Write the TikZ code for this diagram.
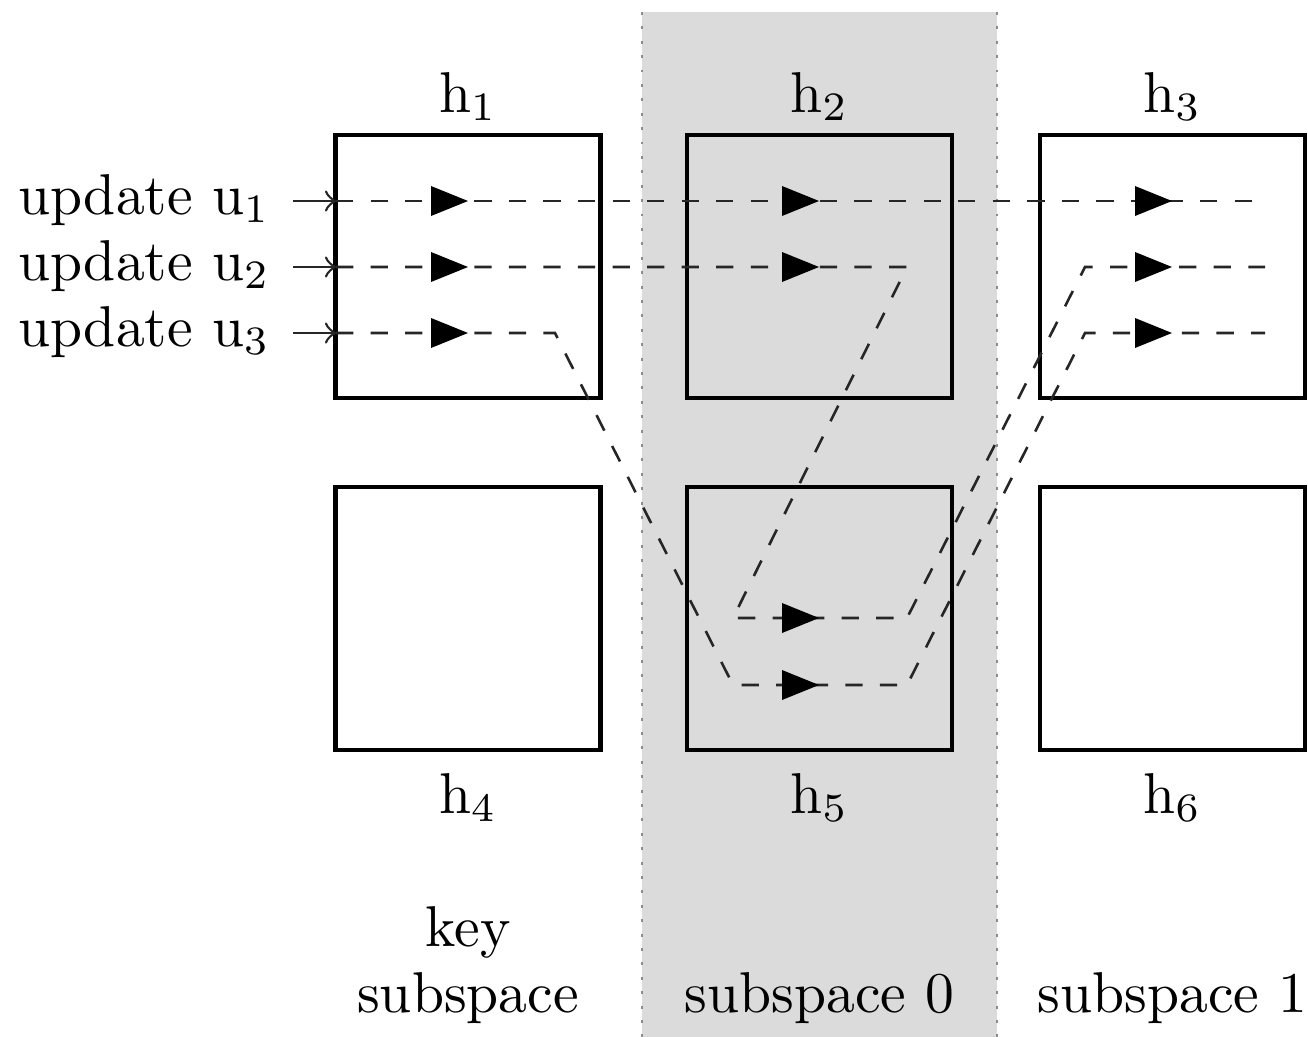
\documentclass[tikz,border=0pt]{standalone}
\usetikzlibrary{arrows}
\begin{document}
\begin{tikzpicture}[x=0.1736pt,y=-0.1736pt,
  box/.style={draw=black,line width=0.7pt,minimum width=265*0.1736pt,minimum height=263*0.1736pt,inner sep=0pt},
  flow/.style={dashed,line width=0.45pt,draw=black!85},
  lbl/.style={anchor=base,inner sep=0pt,font=\normalsize},
  midtip/.pic={\fill[black] (-37,-15) -- (0,0) -- (-37,15) -- cycle;}]
\useasboundingbox (0,0) rectangle (1308,1037);
% band
\fill[black!14] (642,12) rectangle (997,1037);
\draw[black!45,dotted,line width=0.5pt] (642,12) -- (642,1037);
\draw[black!45,dotted,line width=0.5pt] (997,12) -- (997,1037);
% boxes
\node[box] (h1) at (468,266.5) {};
\node[box] (h2) at (819.5,266.5) {};
\node[box] (h3) at (1172.5,266.5) {};
\node[box] (h4) at (468,618.5) {};
\node[box] (h5) at (819.5,618.5) {};
\node[box] (h6) at (1172.5,618.5) {};
% labels
\node[lbl] (l1) at (468,112) {$\mathrm{h}_1$};
\node[lbl] (l2) at (819.5,112) {$\mathrm{h}_2$};
\node[lbl] (l3) at (1172.5,112) {$\mathrm{h}_3$};
\node[lbl] (l4) at (468,813) {$\mathrm{h}_4$};
\node[lbl] (l5) at (819.5,813) {$\mathrm{h}_5$};
\node[lbl] (l6) at (1172.5,813) {$\mathrm{h}_6$};
\node[lbl] (k1) at (468,946) {key};
\node[lbl] (k2) at (468,1012) {subspace};
\node[lbl] (s0) at (819.5,1012) {subspace 0};
\node[lbl] (s1) at (1172.5,1012) {subspace 1};
\node[lbl,anchor=base east] (t1) at (271,214) {update $\mathrm{u}_1$};
\node[lbl,anchor=base east] (t2) at (271,280) {update $\mathrm{u}_2$};
\node[lbl,anchor=base east] (t3) at (271,346) {update $\mathrm{u}_3$};
% coordinates
\coordinate (a1) at (293,201); \coordinate (b1) at (336,201);
\coordinate (a2) at (293,267); \coordinate (b2) at (336,267);
\coordinate (a3) at (293,333); \coordinate (b3) at (336,333);
\coordinate (e1) at (1266,201);
% entry arrows
\draw[->,line width=0.45pt,draw=black!85] (a1) -- (b1);
\draw[->,line width=0.45pt,draw=black!85] (a2) -- (b2);
\draw[->,line width=0.45pt,draw=black!85] (a3) -- (b3);
% flows
\draw[flow] (b1) -- (e1);
\draw[flow] (b2) -- (907,267) -- (733,618) -- (907,618) -- (1085,267) -- (1265,267);
\draw[flow] (b3) -- (555,333) -- (733,685) -- (907,685) -- (1085,333) -- (1265,333);
% mid tips
\foreach \p in {(468,201),(819,201),(1172,201),(468,267),(819,267),(1172,267),(468,333),(1172,333),(819,618),(819,685)}
  \pic at \p {midtip};
\end{tikzpicture}
\end{document}
